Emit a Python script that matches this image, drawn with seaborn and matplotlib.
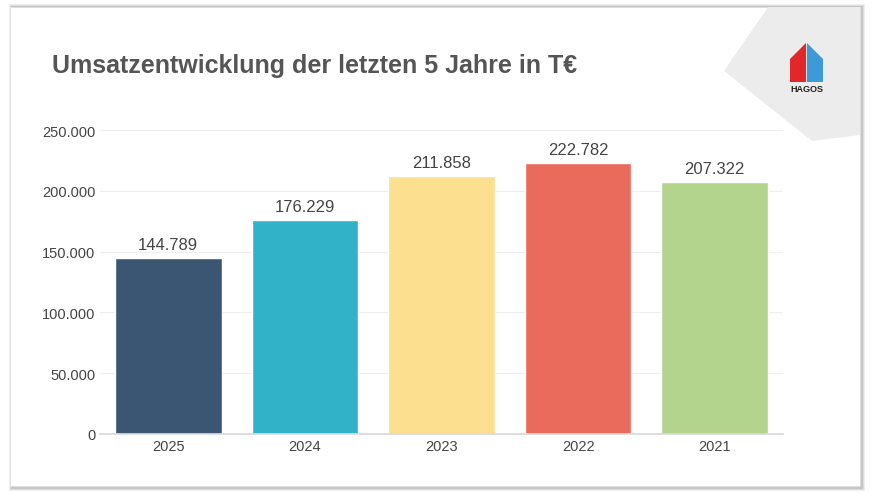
import matplotlib
matplotlib.use("Agg")
import matplotlib.pyplot as plt
import seaborn as sns
import pandas as pd
from matplotlib.patches import Rectangle, Polygon
from matplotlib.ticker import FuncFormatter

years = ["2025", "2024", "2023", "2022", "2021"]
values = [144789, 176229, 211858, 222782, 207322]
colors = ["#3a5673", "#31b2c9", "#fce08f", "#ea6a5c", "#b3d48d"]

sns.set_theme(style="white")
plt.rcParams['font.family'] = ['Liberation Sans', 'DejaVu Sans']

fig = plt.figure(figsize=(8.72, 5.02), dpi=100)
fig.patch.set_facecolor("white")
W, H = 872, 502
def fx(x): return x / W
def fy(y): return 1 - y / H
for i, a in enumerate([0.06, 0.08, 0.1]):
    o = 3 - i
    fig.patches.append(Rectangle((fx(10 - o + 2), fy(489 + o)), fx(852 + 2 * o - 2), (481 + 2 * o) / H,
                                 transform=fig.transFigure, facecolor="black", alpha=a, edgecolor="none", zorder=0))
fig.patches.append(Rectangle((fx(10), fy(487)), fx(850), 479 / H, transform=fig.transFigure,
                             facecolor="white", edgecolor="#dddddd", lw=0.5, zorder=1))
fig.patches.append(Polygon([(fx(724), fy(72)), (fx(768), fy(8)), (fx(860), fy(8)), (fx(860), fy(136)), (fx(812), fy(142))],
                           closed=True, transform=fig.transFigure, facecolor="#ececec", edgecolor="none", zorder=2))
fig.patches.append(Polygon([(fx(790), fy(60)), (fx(806), fy(44)), (fx(806), fy(83)), (fx(790), fy(83))],
                           closed=True, transform=fig.transFigure, facecolor="#e3262b", edgecolor="none", zorder=3))
fig.patches.append(Polygon([(fx(807), fy(44)), (fx(823), fy(60)), (fx(823), fy(83)), (fx(807), fy(83))],
                           closed=True, transform=fig.transFigure, facecolor="#3d9ad6", edgecolor="none", zorder=3))
fig.text(fx(806.5), fy(90), "HAGOS", fontsize=6.5, fontweight="bold", ha="center", va="center", color="#222", zorder=4)

fig.text(fx(52), fy(66), "Umsatzentwicklung der letzten 5 Jahre in T€", fontsize=18, fontweight="bold",
         color="#555555", ha="left", va="center", zorder=4)

ax = fig.add_axes([fx(100), fy(435), fx(683), 304 / H])
ax.set_zorder(5)
ax.patch.set_alpha(0)
df = pd.DataFrame({"year": years, "value": values})
sns.barplot(data=df, x="year", y="value", hue="year", palette=colors, legend=False, width=0.78, ax=ax, saturation=1)
ax.set_ylim(0, 250000)
ax.set_xlim(-0.5, 4.5)
ax.set_yticks(range(0, 250001, 50000))
ax.yaxis.set_major_formatter(FuncFormatter(lambda v, p: f"{int(v):,}".replace(",", ".")))
ax.grid(axis="y", color="#eeeeee", lw=0.8)
ax.set_axisbelow(True)
for s in ["top", "right", "left"]:
    ax.spines[s].set_visible(False)
ax.spines["bottom"].set_color("#d9d9d9")
ax.tick_params(axis="both", labelsize=10.5, colors="#444444", length=0)
ax.set_xlabel(""); ax.set_ylabel("")
for i, v in enumerate(values):
    ax.text(i, v + 5000, f"{v:,}".replace(",", "."), ha="center", va="bottom", fontsize=12, color="#444444")
fig.savefig("out.png", dpi=100)
